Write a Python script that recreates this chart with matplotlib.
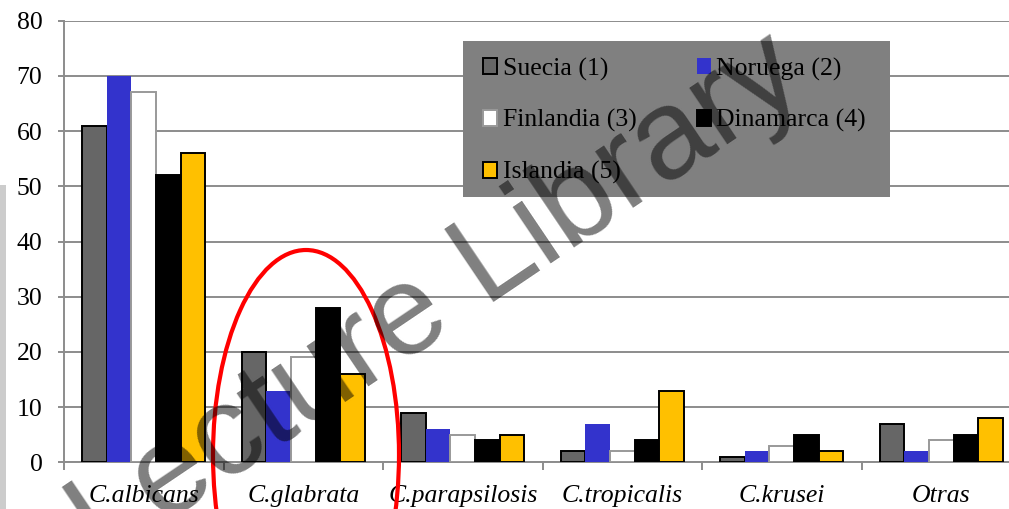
import matplotlib
matplotlib.use("Agg")
import matplotlib.pyplot as plt
from matplotlib.patches import Rectangle, Ellipse, Patch
import numpy as np

categories = ["C.albicans", "C.glabrata", "C.parapsilosis", "C.tropicalis", "C.krusei", "Otras"]
series_names = ["Suecia (1)", "Noruega (2)", "Finlandia (3)", "Dinamarca (4)", "Islandia (5)"]
suecia = [61, 20, 9, 2, 1, 7]
noruega = [70, 13, 6, 7, 2, 2]
finlandia = [67, 19, 5, 2, 3, 4]
dinamarca = [52, 28, 4, 4, 5, 5]
islandia = [56, 16, 5, 13, 2, 8]
y_ticks = [0, 10, 20, 30, 40, 50, 60, 70, 80]

series = [suecia, noruega, finlandia, dinamarca, islandia]
faces = ["#666666", "#3333cc", "#ffffff", "#000000", "#ffc000"]
edges = ["#000000", "#3333cc", "#999999", "#000000", "#000000"]
edge_w = [1.4, 0.0, 1.4, 1.4, 1.4]

plt.rcParams["font.family"] = ["Liberation Serif", "DejaVu Serif"]

W, H = 1009, 509
fig = plt.figure(figsize=(W / 100, H / 100), dpi=100)
fig.patch.set_facecolor("white")


def fx(px):
    return px / W


def fy(py):
    return 1 - py / H


fs = 18.5
grid_c = "#8c8c8c"

ax = fig.add_axes([fx(64), fy(462.3), (1021 - 64) / W, (462.3 - 20.7) / H])
x = np.arange(len(categories))
bw = 0.154
for i, vals in enumerate(series):
    ax.bar(x + (i - 2) * bw, vals, width=bw, color=faces[i],
           edgecolor=edges[i], linewidth=edge_w[i], zorder=3)

ax.set_xlim(-0.5, len(categories) - 0.5)
ax.set_ylim(0, 80)
ax.set_yticks(y_ticks)
ax.set_yticklabels([str(v) for v in y_ticks], fontsize=fs)
ax.yaxis.grid(True, color=grid_c, linewidth=1.4)
ax.set_axisbelow(True)

ax.set_xticks(x)
ax.set_xticklabels(categories, fontsize=fs, fontstyle="italic")
ax.set_xticks(np.arange(-0.5, len(categories)), minor=True)
ax.tick_params(axis="x", which="major", length=0, pad=16)
ax.tick_params(axis="x", which="minor", length=6, width=1.4, color=grid_c, direction="out")
ax.tick_params(axis="y", which="major", length=4.5, width=1.4, color=grid_c,
               direction="out", pad=11)

for s in ["top", "right"]:
    ax.spines[s].set_visible(False)
for s in ["left", "bottom"]:
    ax.spines[s].set_color(grid_c)
    ax.spines[s].set_linewidth(1.4)

# legend background panel
fig.patches.append(Rectangle((fx(463), fy(197)), (890 - 463) / W, (197 - 41) / H,
                             transform=fig.transFigure, facecolor="#808080",
                             edgecolor="none", zorder=1))

# entries laid out row by row: (Suecia, Noruega), (Finlandia, Dinamarca), (Islandia)
order = [0, 2, 4, 1, 3]
handles = [Patch(facecolor=faces[i], edgecolor=edges[i], linewidth=edge_w[i])
           for i in order]
labels = [series_names[i] for i in order]
fig.legend(handles, labels, loc="upper left",
           bbox_to_anchor=(fx(483), fy(57.5)), ncol=2, frameon=False,
           prop={"size": fs}, borderpad=0, borderaxespad=0,
           handlelength=0.56, handleheight=0.56, handletextpad=0.2,
           columnspacing=2.35, labelspacing=1.12)

# red ellipse
fig.patches.append(Ellipse((fx(306), fy(455)), 186 / W, 410 / H,
                           transform=fig.transFigure, facecolor="none",
                           edgecolor="#ff0000", linewidth=3, zorder=8))

# light strip at the left edge
fig.patches.append(Rectangle((0, 0), 6 / W, (509 - 185) / H,
                             transform=fig.transFigure, facecolor="#cccccc",
                             edgecolor="none", zorder=1))

fig.text(fx(103), fy(566), "Lecture Library", rotation=34, fontsize=92,
         family="Liberation Sans", color=(0, 0, 0, 0.5), ha="left",
         va="baseline", rotation_mode="anchor", zorder=20)

fig.savefig("out.png", dpi=100)
